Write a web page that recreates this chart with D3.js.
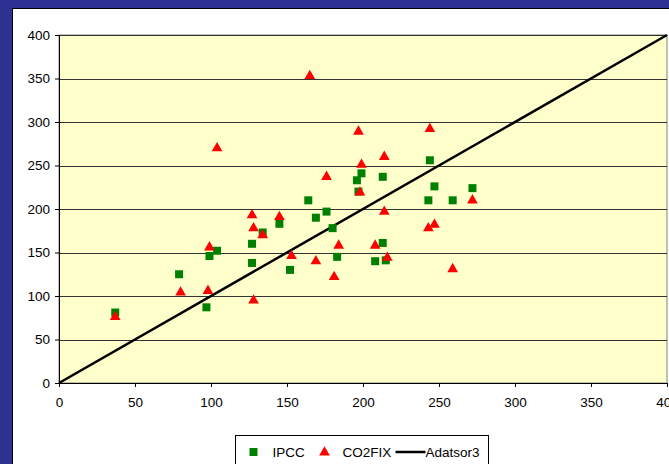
<!DOCTYPE html>
<html>
<head>
<meta charset="utf-8">
<script src="https://cdn.jsdelivr.net/npm/d3@7"></script>
<style>
  body { margin: 0; background: #2E3192; }
  svg { display: block; }
  text { font-family: "Liberation Sans", Arial, sans-serif; fill: #000; }
</style>
</head>
<body>
<div id="chart"></div>
<script>
const FRAME_WIDTH = 669;
const FRAME_HEIGHT = 464;
const MARGINS = {left: 59, right: 2, top: 35, bottom: 81};
const VIS_WIDTH = FRAME_WIDTH - MARGINS.left - MARGINS.right;
const VIS_HEIGHT = FRAME_HEIGHT - MARGINS.top - MARGINS.bottom;

// data
const ipccX = [37, 79, 97, 99, 104, 127, 127, 134, 145, 152, 164, 169, 176, 180, 183, 196, 197, 199, 208, 213, 213, 215, 243, 244, 247, 259, 272];
const ipccY = [81, 125, 87, 146, 152, 138, 160, 173, 183, 130, 210, 190, 197, 178, 145, 233, 220, 241, 140, 161, 237, 141, 210, 256, 226, 210, 224];
const co2fixX = [37, 80, 98, 99, 104, 127, 128, 128, 134, 145, 153, 165, 169, 176, 181, 184, 197, 198, 199, 208, 214, 214, 216, 243, 244, 247, 259, 272];
const co2fixY = [76, 104, 106, 156, 270, 193, 178, 95, 170, 191, 146, 353, 140, 237, 122, 158, 289, 219, 251, 158, 260, 197, 144, 178, 292, 182, 131, 210];
const lineX = [0, 400];
const lineY = [0, 400];
const xTicks = [0, 50, 100, 150, 200, 250, 300, 350, 400];
const yTicks = [0, 50, 100, 150, 200, 250, 300, 350, 400];
const seriesNames = ["IPCC", "CO2FIX", "Adatsor3"];

const FRAME = d3.select("#chart")
  .append("svg")
    .attr("width", FRAME_WIDTH)
    .attr("height", FRAME_HEIGHT);

// white chart panel
FRAME.append("rect")
  .attr("x", 12.5).attr("y", 8.5)
  .attr("width", FRAME_WIDTH).attr("height", FRAME_HEIGHT)
  .attr("fill", "#fff").attr("stroke", "#000").attr("stroke-width", 1);

const X_SCALE = d3.scaleLinear().domain([0, 400]).range([0, VIS_WIDTH]);
const Y_SCALE = d3.scaleLinear().domain([0, 400]).range([VIS_HEIGHT, 0]);

const plot = FRAME.append("g")
  .attr("transform", "translate(" + MARGINS.left + "," + MARGINS.top + ")");

plot.append("rect")
  .attr("width", VIS_WIDTH).attr("height", VIS_HEIGHT)
  .attr("fill", "#FFFFCC").attr("stroke", "#808080");

// gridlines
plot.selectAll(".grid")
  .data(yTicks.slice(1))
  .enter().append("line")
    .attr("x1", 0).attr("x2", VIS_WIDTH)
    .attr("y1", d => Math.round(Y_SCALE(d)) + 0.5)
    .attr("y2", d => Math.round(Y_SCALE(d)) + 0.5)
    .attr("stroke", "#333").attr("stroke-width", 1);

// axes
const xAxis = plot.append("g")
  .attr("transform", "translate(0," + VIS_HEIGHT + ")")
  .call(d3.axisBottom(X_SCALE).tickValues(xTicks).tickSize(4).tickPadding(10).tickSizeOuter(0));
const yAxis = plot.append("g")
  .call(d3.axisLeft(Y_SCALE).tickValues(yTicks).tickSize(4).tickPadding(5).tickSizeOuter(0));
[xAxis, yAxis].forEach(ax => {
  ax.attr("font-size", "13.5px").attr("font-family", "Liberation Sans, Arial, sans-serif");
  ax.select(".domain").attr("stroke", "#000");
  ax.selectAll(".tick line").attr("stroke", "#000");
});

// diagonal line
const line = d3.line().x(d => X_SCALE(d[0])).y(d => Y_SCALE(d[1]));
plot.append("path")
  .datum(lineX.map((x, i) => [x, lineY[i]]))
  .attr("d", line)
  .attr("fill", "none").attr("stroke", "#000").attr("stroke-width", 2.5);

// points
const square = d3.symbol().type(d3.symbolSquare).size(64);
const triangle = d3.symbol().type(d3.symbolTriangle).size(50);

plot.selectAll(".ipcc")
  .data(ipccX.map((x, i) => [x, ipccY[i]]))
  .enter().append("path")
    .attr("d", square)
    .attr("transform", d => "translate(" + X_SCALE(d[0]) + "," + Y_SCALE(d[1]) + ")")
    .attr("fill", "#008000");

plot.selectAll(".co2fix")
  .data(co2fixX.map((x, i) => [x, co2fixY[i]]))
  .enter().append("path")
    .attr("d", triangle)
    .attr("transform", d => "translate(" + X_SCALE(d[0]) + "," + Y_SCALE(d[1]) + ")")
    .attr("fill", "#FF0000");

// legend
const legend = FRAME.append("g").attr("transform", "translate(235.5,435.5)");
legend.append("rect")
  .attr("width", 253).attr("height", 40)
  .attr("fill", "#fff").attr("stroke", "#000");
legend.append("path").attr("d", square).attr("transform", "translate(18,16.5)").attr("fill", "#008000");
legend.append("text").attr("x", 37).attr("y", 21.5).attr("font-size", "13.5px").text(seriesNames[0]);
legend.append("path").attr("d", triangle).attr("transform", "translate(89,17)").attr("fill", "#FF0000");
legend.append("text").attr("x", 107).attr("y", 21.5).attr("font-size", "13.5px").text(seriesNames[1]);
legend.append("line").attr("x1", 160).attr("x2", 190).attr("y1", 16.5).attr("y2", 16.5)
  .attr("stroke", "#000").attr("stroke-width", 2.5);
legend.append("text").attr("x", 190).attr("y", 21.5).attr("font-size", "13.5px").text(seriesNames[2]);
</script>
</body>
</html>
